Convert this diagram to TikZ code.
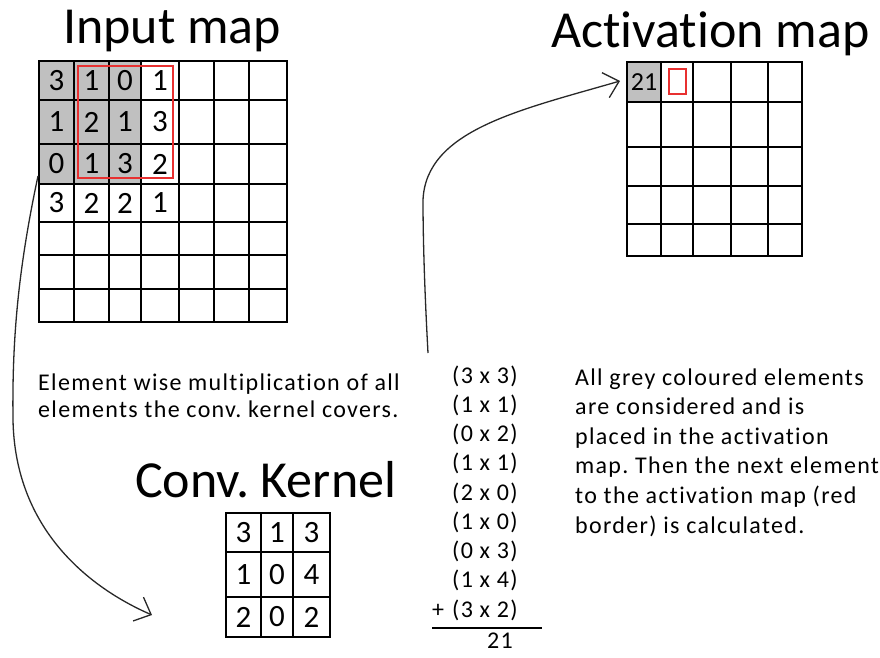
\documentclass[tikz,border=0pt]{standalone}
\usepackage{fontspec}
\setmainfont{Carlito}[Ligatures={NoCommon,NoContextual,NoRare},RawFeature={-liga;-clig}]
\newfontfamily\notefont[LetterSpace=5.5,Ligatures={NoCommon,NoContextual,NoRare},RawFeature={-liga;-clig}]{Carlito}
\usetikzlibrary{arrows.meta}
\frenchspacing

\definecolor{cellgrey}{RGB}{192,192,192}
\definecolor{borderred}{RGB}{232,48,48}
\definecolor{penline}{RGB}{40,40,40}

\begin{document}
\begin{tikzpicture}[x=1pt,y=-1pt]
\tikzset{
  gridline/.style={line width=1.6pt,line cap=rect},
  num/.style={inner sep=0pt,font=\fontsize{31}{33}\selectfont},
  title/.style={inner sep=0pt,anchor=base west,font=\fontsize{52}{56}\selectfont},
  note/.style={inner sep=0pt,anchor=base west,font=\notefont\fontsize{24}{27}\selectfont},
  sketch/.style={draw=penline,line width=1.3pt,-{Straight Barb[length=14pt,width=26pt,line width=1.3pt]}},
  redbox/.style={draw=borderred,line width=1.3pt}
}
\useasboundingbox (0,0) rectangle (880,657);

% input map
\fill[cellgrey] (39,61) rectangle (141,184);
\foreach \x in {39,74,109,141,179,214,249,287}
  \draw[gridline] (\x,61) -- (\x,322);
\foreach \y in {61,100,144,184,222,255,289,322}
  \draw[gridline] (39,\y) -- (287,\y);

\path (56.5,80.5) node[num] (in00) {3};
\path (91.5,80.5) node[num] (in01) {1};
\path (125,80.5) node[num] (in02) {0};
\path (160,80.5) node[num] (in03) {1};
\path (56.5,122) node[num] (in10) {1};
\path (91.5,122) node[num] (in11) {2};
\path (125,122) node[num] (in12) {1};
\path (160,122) node[num] (in13) {3};
\path (56.5,164) node[num] (in20) {0};
\path (91.5,164) node[num] (in21) {1};
\path (125,164) node[num] (in22) {3};
\path (160,164) node[num] (in23) {2};
\path (56.5,203) node[num] (in30) {3};
\path (91.5,203) node[num] (in31) {2};
\path (125,203) node[num] (in32) {2};
\path (160,203) node[num] (in33) {1};

\draw[redbox] (78,66) rectangle (173,178);
\node[title] (in-title) at (63,43) {Input map};

% activation map
\fill[cellgrey] (627,62) rectangle (661,102);
\foreach \x in {627,661,693,731,768,802}
  \draw[gridline] (\x,62) -- (\x,256);
\foreach \y in {62,102,147,186,224,256}
  \draw[gridline] (627,\y) -- (802,\y);
\path (644,82) node[num,font=\fontsize{26}{28}\selectfont] (act00) {21};
\draw[redbox] (669,69) rectangle (686,94);
\node[title] (act-title) at (551,47) {Act\kern0pt ivat\kern0pt ion map};

% conv. kernel
\foreach \x in {226,261,293,330}
  \draw[gridline] (\x,513) -- (\x,637);
\foreach \y in {513,552,597,637}
  \draw[gridline] (226,\y) -- (330,\y);

\path (243.5,532.5) node[num] (k00) {3};
\path (277,532.5) node[num] (k01) {1};
\path (311.5,532.5) node[num] (k02) {3};
\path (243.5,574.5) node[num] (k10) {1};
\path (277,574.5) node[num] (k11) {0};
\path (311.5,574.5) node[num] (k12) {4};
\path (243.5,617) node[num] (k20) {2};
\path (277,617) node[num] (k21) {0};
\path (311.5,617) node[num] (k22) {2};
\node[title] (kern-title) at (135,497) {Conv. Kernel};

% notes
\node[note] (mult1) at (38,390) {Element wise multiplication of all};
\node[note] (mult2) at (38,417) {elements the conv. kernel covers.};

\foreach \t [count=\i from 0] in {{All grey coloured elements},{are considered and is},
    {placed in the activation},{map. Then the next element},
    {to the activation map (red},{border) is calculated.}}
  \node[note] (info\i) at (575,{385+29.6*\i}) {\t};

% sum of products
\foreach \t [count=\i from 0] in {{(3 x 3)},{(1 x 1)},{(0 x 2)},{(1 x 1)},{(2 x 0)},
    {(1 x 0)},{(0 x 3)},{(1 x 4)},{(3 x 2)}}
  \node[note] (calc\i) at (452,{383+29.25*\i}) {\t};
\node[note] (plus) at (432,{383+29.25*8}) {+};
\draw[line width=1.3pt] (432,628) -- (542,628);
\node[note] (calc-sum) at (487,648) {21};

% arrows
\coordinate (in-src) at (38,176);
\coordinate (kern-dst) at (152,615);
\draw[sketch] (in-src) .. controls (18,270) and (12,340) .. (13,420)
  .. controls (15,530) and (90,588) .. (kern-dst);

\coordinate (calc-src) at (428,353);
\coordinate (act-dst) at (620,81);
\draw[sketch] (calc-src) .. controls (424,280) and (423,230) .. (423,200)
  .. controls (426,130) and (520,110) .. (act-dst);
\end{tikzpicture}
\end{document}
